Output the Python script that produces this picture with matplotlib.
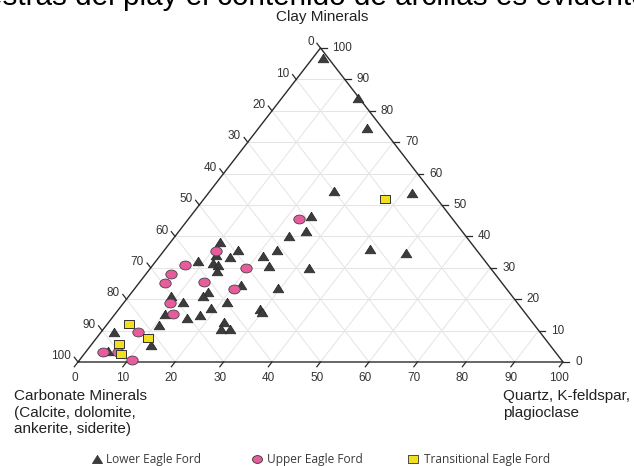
import numpy as np
import matplotlib
import matplotlib.pyplot as plt
from matplotlib.path import Path

matplotlib.use("Agg")

# ternary data, percent (clay, quartz+feldspar); carbonate is the remainder
lower_clay = [96.8, 84.1, 74.5, 54.5, 53.8, 46.5, 41.7, 40.1, 36.0, 34.7, 38.2, 35.7, 35.7, 33.8,
              33.4, 32.2, 34.1, 31.5, 30.9, 29.0, 30.6, 29.9, 24.5, 23.6, 22.3, 21.0, 21.0, 19.1,
              19.1, 17.2, 16.9, 15.9, 15.3, 15.0, 14.0, 11.8, 12.7, 10.5, 10.5, 9.6, 5.4, 3.5]
lower_qtz = [2.1, 15.7, 22.3, 25.6, 42.0, 24.8, 26.1, 23.4, 42.2, 50.2, 10.2, 15.2, 23.2, 21.2,
             14.6, 8.6, 11.5, 12.0, 13.5, 14.2, 24.1, 32.6, 21.3, 29.4, 15.7, 15.3, 8.7, 12.1,
             21.2, 18.8, 29.1, 29.9, 10.3, 17.7, 15.5, 10.8, 23.7, 24.2, 26.1, 2.6, 12.4, 4.4]

upper_clay = [45.5, 35.4, 30.9, 29.9, 28.0, 25.2, 25.5, 23.2, 18.8, 15.3, 9.6, 3.2, 3.2, 0.6]
upper_qtz = [22.8, 10.8, 6.7, 19.6, 5.2, 5.3, 13.3, 20.6, 9.6, 12.0, 7.6, 3.6, 6.6, 10.8]

trans_clay = [51.9, 12.1, 7.6, 5.7, 2.5]
trans_qtz = [37.3, 4.5, 10.6, 5.6, 7.6]

tick_values = list(range(0, 101, 10))
series_names = ["Lower Eagle Ford", "Upper Eagle Ford", "Transitional Eagle Ford"]

W, H = 634, 466
# triangle placement in pixels
X0, X1, Y0, Y1 = 78, 563, 362, 48
PW, PH = X1 - X0, Y0 - Y1


def to_xy(clay, qtz):
    clay = np.asarray(clay) / 100.0
    qtz = np.asarray(qtz) / 100.0
    return qtz + clay / 2.0, clay


def squashed(verts, ratio=0.8):
    v = np.asarray(verts, dtype=float)
    v[:, 1] *= ratio
    return Path(v)


tri_marker = squashed([(0, 1), (-1, -1), (1, -1), (0, 1)])
circ = Path.unit_circle()
ell_marker = Path(circ.vertices * [1, 0.78], circ.codes)
sq_marker = squashed([(-1, -1), (1, -1), (1, 1), (-1, 1), (-1, -1)])

fig = plt.figure(figsize=(W / 100, H / 100), dpi=100)
ax = fig.add_axes([X0 / W, (H - Y0) / H, PW / W, PH / H])
ax.set_xlim(0, 1)
ax.set_ylim(0, 1)
ax.axis("off")

grid_kw = dict(color="#e4e4e4", lw=0.7, zorder=1)
for v in tick_values[1:-1]:
    f = v / 100
    ax.plot([f / 2, 1 - f / 2], [f, f], **grid_kw)          # clay
    ax.plot([f, f / 2 + 0.5], [0, 1 - f], **grid_kw)        # quartz
    ax.plot([1 - f, (1 - f) / 2], [0, 1 - f], **grid_kw)    # carbonate

ax.plot([0, 1, 0.5, 0], [0, 0, 1, 0], color="#2a2a2a", lw=1.0, zorder=2, clip_on=False)

# tick directions (pixel lengths converted to axes units)
tl = 6.0
edge = np.hypot(PW / 2, PH)
ux, uy = (PW / 2) / edge, PH / edge
tick_kw = dict(color="#2a2a2a", lw=0.9, clip_on=False, zorder=2)
lab_kw = dict(fontsize=8.5, color="#333333", family="Liberation Sans")
for v in tick_values:
    f = v / 100
    # bottom: quartz
    bx, by = f, 0
    ex, ey = bx - ux * tl / PW, by - uy * tl / PH
    ax.plot([bx, ex], [by, ey], **tick_kw)
    ax.text(ex, ey - 11 / PH, str(v), ha="center", va="center", **lab_kw)
    # right: clay
    rx, ry = 1 - f / 2, f
    ex = rx + tl / PW
    ax.plot([rx, ex], [ry, ry], **tick_kw)
    ax.text(ex + 6 / PW, ry, str(v), ha="left", va="center", **lab_kw)
    # left: carbonate
    lx, ly = (1 - f) / 2, 1 - f
    ex, ey = lx - ux * tl / PW, ly + uy * tl / PH
    ax.plot([lx, ex], [ly, ey], **tick_kw)
    ax.text(ex - 3 / PW, ey + 1 / PH, str(v), ha="right", va="center", **lab_kw)

edge_c = "#2b2b2b"
x, y = to_xy(lower_clay, lower_qtz)
ax.plot(x, y, ls="none", marker=tri_marker, ms=7.6, mfc="#3c3c3c", mec=edge_c, mew=0.6,
        clip_on=False, zorder=3)
x, y = to_xy(upper_clay, upper_qtz)
ax.plot(x, y, ls="none", marker=ell_marker, ms=8.2, mfc="#e65c9c", mec="#444444", mew=0.6,
        clip_on=False, zorder=3)
x, y = to_xy(trans_clay, trans_qtz)
ax.plot(x, y, ls="none", marker=sq_marker, ms=7.8, mfc="#f2e01e", mec="#333333", mew=0.7,
        clip_on=False, zorder=3)

txt = dict(family="Liberation Sans", color="#222222", fontsize=11)
fig.text(322 / W, 1 - 17 / H, "Clay Minerals", ha="center", va="center", **txt)
fig.text(14 / W, 1 - 389 / H, "Carbonate Minerals\n(Calcite, dolomite,\nankerite, siderite)",
         ha="left", va="top", linespacing=1.25, **txt)
fig.text(503 / W, 1 - 389 / H, "Quartz, K-feldspar,\nplagioclase",
         ha="left", va="top", linespacing=1.25, **txt)

# cropped caption line at the very top
fig.text(-14 / W, 1 - 5 / H, "estras del play el contenido de arcillas es evidente",
         ha="left", va="baseline", fontsize=21.3, family="Liberation Sans", color="black")

# legend row
leg_y = 459
leg_markers = [tri_marker, ell_marker, sq_marker]
leg_fc = ["#3c3c3c", "#e65c9c", "#f2e01e"]
leg_mx = [97, 257, 413]
leg_tx = [106, 267, 424]
lax = fig.add_axes([0, 0, 1, 1], facecolor="none")
lax.set_xlim(0, W)
lax.set_ylim(H, 0)
lax.axis("off")
for m, fc, mx, tx, name in zip(leg_markers, leg_fc, leg_mx, leg_tx, series_names):
    lax.plot([mx], [leg_y], ls="none", marker=m, ms=7.2, mfc=fc, mec="#333333", mew=0.6)
    lax.text(tx, leg_y, name, ha="left", va="center", fontsize=8.6, family="Open Sans",
             color="#3a3a3a")

fig.savefig("out.png", dpi=100)
